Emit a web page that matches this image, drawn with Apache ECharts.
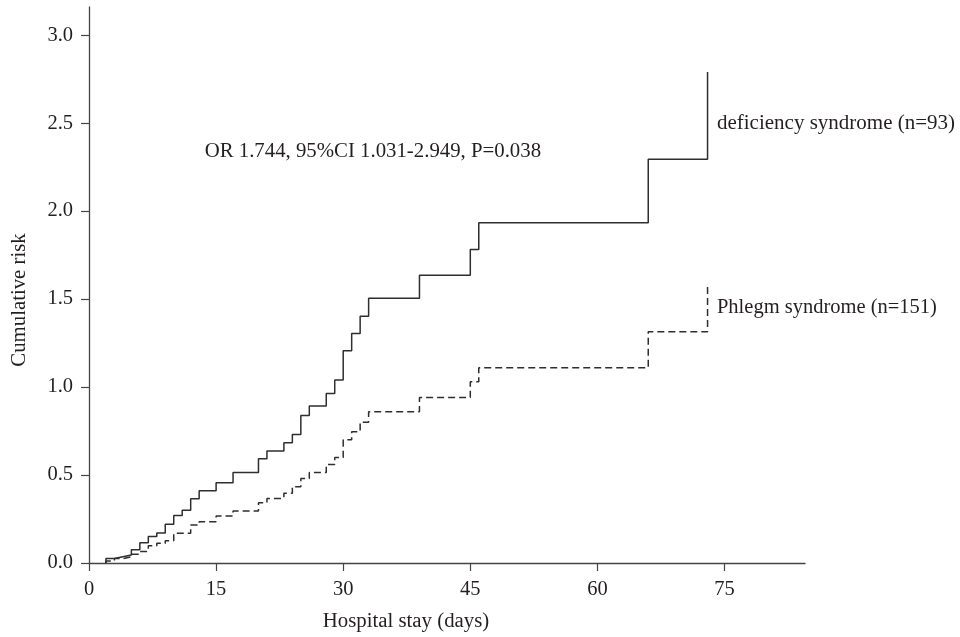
<!DOCTYPE html>
<html>
<head>
<meta charset="utf-8">
<title>Cumulative risk</title>
<script src="https://cdn.jsdelivr.net/npm/echarts@6/dist/echarts.min.js"></script>
<style>
    html, body { margin: 0; padding: 0; background: #fff; }
    #echarts00 { width: 960px; height: 637px; }
</style>
</head>
<body>
<div id="echarts00"></div>
<script>
// 虚证 (deficiency syndrome)
let deficiencyDays = [2, 2, 3, 4, 5, 6, 7, 8, 9, 10, 11, 12, 13, 15, 17, 20, 21, 23, 24, 25, 26, 28, 29, 30, 31, 32, 33, 39, 45, 46, 66, 73];
let deficiencyRisk = [0, 0.025, 0.035, 0.045, 0.075, 0.115, 0.15, 0.17, 0.22, 0.27, 0.30, 0.365, 0.41, 0.456, 0.515, 0.593, 0.636, 0.683, 0.73, 0.838, 0.892, 0.964, 1.04, 1.206, 1.305, 1.403, 1.504, 1.636, 1.782, 1.934, 2.295, 2.79];
// 痰证 (phlegm syndrome)
let phlegmDays = [2, 2, 3, 4, 5, 6, 7, 8, 9, 10, 12, 13, 15, 17, 20, 21, 23, 24, 25, 26, 28, 29, 30, 31, 32, 33, 39, 45, 46, 66, 73];
let phlegmRisk = [0, 0.012, 0.025, 0.035, 0.05, 0.065, 0.098, 0.112, 0.127, 0.169, 0.216, 0.235, 0.267, 0.295, 0.343, 0.367, 0.396, 0.434, 0.48, 0.515, 0.56, 0.60, 0.70, 0.746, 0.80, 0.86, 0.94, 1.03, 1.11, 1.314, 1.58];
// 刻度
let xTicks = [0, 15, 30, 45, 60, 75];
let yTicks = [0, 0.5, 1.0, 1.5, 2.0, 2.5, 3.0];
// 文字标注
let seriesNames = ['deficiency syndrome (n=93)', 'Phlegm syndrome (n=151)'];
let statText = 'OR 1.744, 95%CI 1.031-2.949, P=0.038';

let fontFamily = '"Liberation Serif", "Times New Roman", serif';
let textColor = '#231f20';
let lineColor = '#2e2e2e';

function toPairs(xs, ys) {
    let list = [];
    for (let i = 0; i < xs.length; i++) {
        list.push([xs[i], ys[i]]);
    }
    return list;
}

let myChart = echarts.init(document.getElementById('echarts00'));

let option = {
    animation: false,
    backgroundColor: '#fff',
    grid: {
        left: 89,
        right: 155,
        top: 7,
        bottom: 74,
        containLabel: false,
        outerBoundsMode: 'none'
    },
    xAxis: {
        type: 'value',
        min: 0,
        max: 84.5,
        axisLine: { lineStyle: { color: '#444', width: 1.3 } },
        axisTick: { length: 8, customValues: xTicks, lineStyle: { color: '#444', width: 1.2 } },
        axisLabel: {
            customValues: xTicks,
            margin: 16,
            color: textColor,
            fontFamily: fontFamily,
            fontSize: 20.5
        },
        splitLine: { show: false }
    },
    yAxis: {
        type: 'value',
        min: 0,
        max: 3.16,
        axisLine: { show: true, lineStyle: { color: '#444', width: 1.3 } },
        axisTick: { show: true, length: 8, customValues: yTicks, lineStyle: { color: '#444', width: 1.2 } },
        axisLabel: {
            customValues: yTicks,
            margin: 16,
            color: textColor,
            fontFamily: fontFamily,
            fontSize: 20.5,
            formatter: function (v) { return v.toFixed(1); }
        },
        splitLine: { show: false }
    },
    series: [
        {
            name: seriesNames[0],
            type: 'line',
            step: 'end',
            symbol: 'none',
            data: toPairs(deficiencyDays, deficiencyRisk),
            lineStyle: { color: lineColor, width: 1.5, type: 'solid' }
        },
        {
            name: seriesNames[1],
            type: 'line',
            step: 'end',
            symbol: 'none',
            data: toPairs(phlegmDays, phlegmRisk),
            lineStyle: { color: lineColor, width: 1.5, type: [7, 4] }
        }
    ]
};
myChart.setOption(option);

// 文字位置按坐标换算
let defPos = myChart.convertToPixel({ gridIndex: 0 }, [73.4, 2.5]);
let phlPos = myChart.convertToPixel({ gridIndex: 0 }, [73.4, 1.45]);
let statPos = myChart.convertToPixel({ gridIndex: 0 }, [13.65, 2.336]);

function textItem(x, y, text, size, align, rotation) {
    return {
        type: 'text',
        x: x,
        y: y,
        rotation: rotation || 0,
        style: {
            text: text,
            fill: textColor,
            font: size + 'px ' + fontFamily,
            textAlign: align,
            textVerticalAlign: 'middle'
        }
    };
}

myChart.setOption({
    graphic: [
        textItem(defPos[0] + 6, defPos[1], seriesNames[0], 21, 'left'),
        textItem(phlPos[0] + 6, phlPos[1], seriesNames[1], 20.5, 'left'),
        textItem(statPos[0], statPos[1], statText, 20.8, 'left'),
        // 坐标轴标题
        textItem(406, 622, 'Hospital stay (days)', 20.8, 'center'),
        textItem(20, 300, 'Cumulative risk', 20.8, 'center', Math.PI / 2)
    ]
});
</script>
</body>
</html>
